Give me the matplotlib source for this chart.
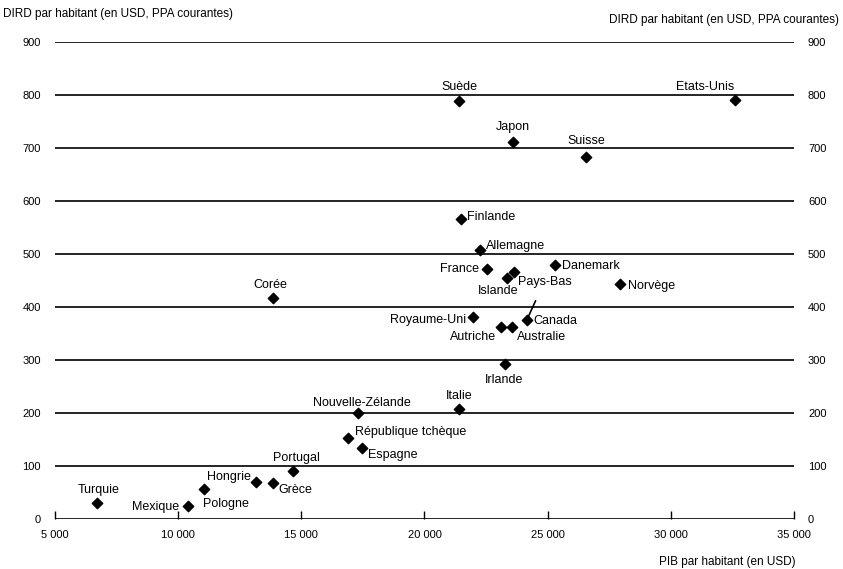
import matplotlib.pyplot as plt

plt.rcParams['font.family'] = ['Liberation Sans', 'DejaVu Sans']

# données
pays = ['Suède', 'Etats-Unis', 'Japon', 'Suisse', 'Finlande', 'Allemagne', 'France',
        'Danemark', 'Pays-Bas', 'Islande', 'Norvège', 'Royaume-Uni', 'Canada',
        'Autriche', 'Australie', 'Irlande', 'Corée', 'Italie', 'Nouvelle-Zélande',
        'République tchèque', 'Espagne', 'Portugal', 'Hongrie', 'Grèce', 'Pologne',
        'Mexique', 'Turquie']
pib = [21400, 32600, 23600, 26550, 21500, 22250, 22550,
       25300, 23650, 23350, 27950, 21950, 24150,
       23100, 23550, 23250, 13850, 21400, 17300,
       16900, 17450, 14650, 13150, 13850, 11050,
       10400, 6700]
dird = [789, 790, 712, 683, 566, 508, 472,
        480, 466, 455, 443, 382, 375,
        363, 363, 293, 417, 208, 200,
        153, 134, 91, 69, 67, 57,
        25, 30]

xticks = [5000, 10000, 15000, 20000, 25000, 30000, 35000]
xlabels = ['5 000', '10 000', '15 000', '20 000', '25 000', '30 000', '35 000']
yticks = list(range(0, 1000, 100))

# position des étiquettes (décalage en pixels, alignement)
etiq = {
    'Suède': (0, 14, 'center'), 'Etats-Unis': (-30, 13, 'center'),
    'Japon': (0, 15, 'center'), 'Suisse': (0, 16, 'center'),
    'Finlande': (6, 2, 'left'), 'Allemagne': (6, 4, 'left'),
    'France': (-8, 0, 'right'), 'Danemark': (7, -1, 'left'),
    'Pays-Bas': (4, -10, 'left'), 'Islande': (-9, -13, 'center'),
    'Norvège': (8, -2, 'left'), 'Royaume-Uni': (-6, -3, 'right'),
    'Canada': (7, -1, 'left'), 'Autriche': (-5, -10, 'right'),
    'Australie': (5, -10, 'left'), 'Irlande': (0, -16, 'center'),
    'Corée': (-3, 13, 'center'), 'Italie': (0, 13, 'center'),
    'Nouvelle-Zélande': (4, 10, 'center'), 'République tchèque': (7, 6, 'left'),
    'Espagne': (6, -7, 'left'), 'Portugal': (4, 13, 'center'),
    'Hongrie': (-5, 5, 'right'), 'Grèce': (5, -7, 'left'),
    'Pologne': (-1, -15, 'left'), 'Mexique': (-9, -1, 'right'),
    'Turquie': (2, 13, 'center'),
}

fig = plt.figure(figsize=(8.43, 5.69), dpi=100)
ax = fig.add_axes([0.065, 0.088, 0.877, 0.838])

for y in yticks:
    ax.axhline(y, color='black', lw=1.2, zorder=1)

ax.scatter(pib, dird, marker='D', s=28, color='black', zorder=3)

for p, x, y in zip(pays, pib, dird):
    dx, dy, ha = etiq[p]
    ax.annotate(p, (x, y), xytext=(dx, dy), textcoords='offset pixels',
                ha=ha, va='center', fontsize=9)

# petit trait près du Canada
i = pays.index('Canada')
ax.annotate('', (pib[i], dird[i]), xytext=(10, 22), textcoords='offset pixels',
            arrowprops=dict(arrowstyle='-', color='black', lw=1.2))

ax.set_xlim(5000, 35000)
ax.set_ylim(0, 900)
for s in ax.spines.values():
    s.set_visible(False)

ax.set_xticks(xticks)
ax.set_xticklabels(xlabels, fontsize=8)
ax.tick_params(axis='x', direction='in', length=6, width=1, pad=8)
ax.set_yticks(yticks)
ax.set_yticklabels([str(v) for v in yticks], fontsize=8)
ax.tick_params(axis='y', length=0, pad=10, labelleft=True, labelright=True)

fig.text(0.004, 0.975, 'DIRD par habitant (en USD, PPA courantes)', fontsize=8.5,
         ha='left', va='center')
fig.text(0.995, 0.965, 'DIRD par habitant (en USD, PPA courantes)', fontsize=8.5,
         ha='right', va='center')
fig.text(0.944, 0.012, 'PIB par habitant (en USD)', fontsize=8.5,
         ha='right', va='center')

plt.savefig('out.png', dpi=100)
